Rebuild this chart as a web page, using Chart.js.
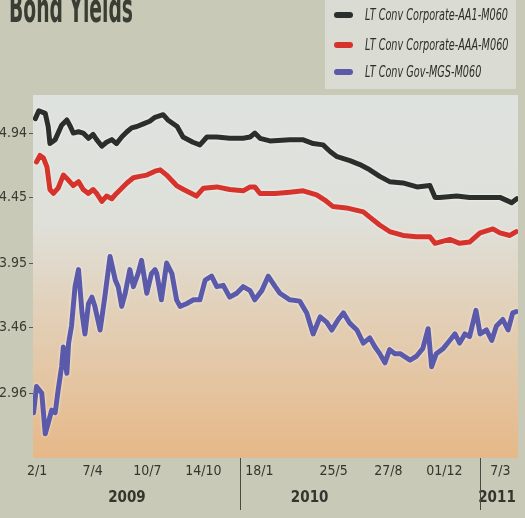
<!DOCTYPE html>
<html>
<head>
<meta charset="utf-8">
<script src="https://cdn.jsdelivr.net/npm/chart.js@4.4.1/dist/chart.umd.min.js"></script>
<style>
  html, body { margin: 0; padding: 0; background: #c8c9b6; overflow: hidden; }
  #wrap { width: 525px; height: 518px; position: relative; }
</style>
</head>
<body>
<div id="wrap"><canvas id="bond" width="525" height="518"></canvas></div>
<script>
// day offsets counted from 2 Jan 2009
const tickDays = [0, 95, 189, 285, 381, 508, 602, 698, 794];
const tickLabels = ["2/1", "7/4", "10/7", "14/10", "18/1", "25/5", "27/8", "01/12", "7/3"];
const yearDays = [154, 467, 788];
const yearLabels = ["2009", "2010", "2011"];
const yearSplitDays = [348, 759];
const yTicks = [2.96, 3.46, 3.95, 4.45, 4.94];

const seriesNames = ["LT Conv Corporate-AA1-M060", "LT Conv Corporate-AAA-M060", "LT Conv Gov-MGS-M060"];
const seriesColors = ["#2b2f2c", "#d5332b", "#5b5aaa"];

const aa1Days = [-3, 3, 14, 19, 22, 31, 42, 51, 57, 62, 71, 79, 88, 96, 102, 111, 119, 128, 136, 145, 154, 162, 171, 182, 193, 202, 216, 224, 240, 250, 267, 279, 291, 308, 330, 353, 365, 373, 382, 399, 433, 455, 473, 490, 502, 514, 536, 553, 570, 587, 604, 627, 651, 673, 682, 690, 719, 741, 771, 793, 813, 822];
const aa1Vals = [5.05, 5.11, 5.09, 4.99, 4.86, 4.89, 5.00, 5.04, 4.99, 4.94, 4.95, 4.94, 4.90, 4.93, 4.89, 4.84, 4.87, 4.89, 4.86, 4.91, 4.95, 4.98, 4.99, 5.01, 5.03, 5.06, 5.08, 5.04, 4.99, 4.91, 4.87, 4.85, 4.91, 4.91, 4.90, 4.90, 4.91, 4.94, 4.90, 4.88, 4.89, 4.89, 4.86, 4.85, 4.80, 4.76, 4.73, 4.70, 4.66, 4.61, 4.57, 4.56, 4.53, 4.54, 4.45, 4.45, 4.46, 4.45, 4.45, 4.45, 4.41, 4.44];

const aaaDays = [-1, 5, 11, 17, 22, 28, 36, 45, 54, 62, 71, 79, 88, 96, 102, 111, 119, 128, 136, 145, 154, 165, 176, 188, 202, 211, 222, 239, 251, 273, 285, 308, 330, 353, 365, 373, 382, 408, 433, 456, 479, 493, 507, 530, 559, 570, 587, 604, 627, 650, 673, 682, 707, 724, 741, 759, 781, 793, 810, 821];
const aaaVals = [4.72, 4.77, 4.75, 4.68, 4.51, 4.48, 4.52, 4.62, 4.58, 4.54, 4.57, 4.51, 4.48, 4.51, 4.48, 4.42, 4.46, 4.44, 4.48, 4.52, 4.56, 4.60, 4.61, 4.62, 4.65, 4.66, 4.62, 4.54, 4.51, 4.46, 4.52, 4.53, 4.51, 4.50, 4.53, 4.53, 4.48, 4.48, 4.49, 4.50, 4.47, 4.43, 4.38, 4.37, 4.34, 4.30, 4.24, 4.19, 4.16, 4.15, 4.15, 4.10, 4.13, 4.10, 4.11, 4.18, 4.21, 4.18, 4.16, 4.19];

const mgsDays = [-6, -1, 8, 14, 19, 25, 31, 36, 42, 45, 51, 54, 59, 65, 71, 77, 82, 88, 94, 99, 108, 116, 125, 134, 139, 145, 151, 159, 165, 173, 179, 188, 196, 202, 205, 213, 222, 231, 239, 245, 256, 268, 279, 288, 299, 308, 319, 330, 342, 353, 365, 373, 385, 396, 408, 416, 433, 450, 462, 473, 485, 496, 505, 516, 525, 536, 548, 559, 570, 579, 587, 596, 604, 613, 622, 639, 650, 661, 670, 676, 684, 696, 707, 716, 724, 733, 741, 752, 759, 770, 779, 787, 798, 807, 815, 821];
const mgsVals = [2.81, 3.01, 2.96, 2.65, 2.73, 2.83, 2.81, 2.98, 3.16, 3.31, 3.11, 3.34, 3.47, 3.77, 3.90, 3.57, 3.41, 3.64, 3.69, 3.62, 3.44, 3.69, 4.00, 3.82, 3.77, 3.62, 3.72, 3.90, 3.77, 3.87, 3.97, 3.72, 3.87, 3.90, 3.87, 3.67, 3.95, 3.87, 3.67, 3.62, 3.64, 3.67, 3.67, 3.82, 3.85, 3.77, 3.78, 3.69, 3.72, 3.77, 3.74, 3.67, 3.74, 3.85, 3.77, 3.72, 3.67, 3.66, 3.57, 3.41, 3.54, 3.50, 3.44, 3.52, 3.57, 3.49, 3.44, 3.34, 3.38, 3.31, 3.26, 3.19, 3.29, 3.26, 3.26, 3.21, 3.24, 3.30, 3.45, 3.16, 3.26, 3.30, 3.36, 3.41, 3.34, 3.41, 3.39, 3.59, 3.41, 3.44, 3.36, 3.47, 3.52, 3.44, 3.57, 3.58];

const narrow = "'Liberation Sans Narrow', 'DejaVu Sans Condensed', 'Roboto', sans-serif";

function toPoints(days, vals) {
    return days.map((d, i) => ({ x: d, y: vals[i] }));
}

function makeDataset(i, days, vals) {
    return {
        label: seriesNames[i],
        data: toPoints(days, vals),
        borderColor: seriesColors[i],
        borderWidth: 5,
        pointRadius: 0,
        tension: 0,
        borderJoinStyle: "round",
        borderCapStyle: "round"
    };
}

const decor = {
    id: "decor",
    beforeDraw(chart) {
        const ctx = chart.ctx;
        const a = chart.chartArea;
        ctx.save();
        ctx.fillStyle = "#c8c9b6";
        ctx.fillRect(0, 0, chart.width, chart.height);
        // plot background
        let g = ctx.createLinearGradient(0, a.top, 0, a.bottom);
        g.addColorStop(0, "#dee2de");
        g.addColorStop(0.35, "#dfe0da");
        g.addColorStop(0.6, "#e2d0b8");
        g.addColorStop(1, "#e6b888");
        ctx.fillStyle = g;
        ctx.fillRect(a.left, a.top, a.right - a.left, a.bottom - a.top);
        // title, cut at the top edge
        ctx.fillStyle = "#3a3d33";
        ctx.font = "bold 40px " + narrow;
        ctx.textBaseline = "alphabetic";
        ctx.fillText("Bond Yields", 9, 22, 124);
        // legend box
        ctx.fillStyle = "#dadcd4";
        ctx.fillRect(325, 0, 191, 89);
        ctx.font = "italic 15px " + narrow;
        ctx.textBaseline = "middle";
        const rows = [15, 45, 72];
        const squeeze = 143 / ctx.measureText(seriesNames[0]).width;
        chart.data.datasets.forEach((ds, i) => {
            ctx.strokeStyle = ds.borderColor;
            ctx.lineWidth = 6;
            ctx.lineCap = "round";
            ctx.beginPath();
            ctx.moveTo(337, rows[i]);
            ctx.lineTo(350, rows[i]);
            ctx.stroke();
            ctx.fillStyle = "#2c2e28";
            ctx.fillText(ds.label, 365, rows[i] + 1, ctx.measureText(ds.label).width * squeeze);
        });
        ctx.restore();
    },
    beforeDatasetsDraw(chart) {
        const ctx = chart.ctx;
        ctx.save();
        ctx.shadowColor = "rgba(255,255,255,0.75)";
        ctx.shadowBlur = 3;
    },
    afterDatasetsDraw(chart) {
        chart.ctx.restore();
    },
    afterDraw(chart) {
        const ctx = chart.ctx;
        const xs = chart.scales.x;
        ctx.save();
        ctx.fillStyle = "#34362e";
        ctx.font = "bold 15px " + narrow;
        ctx.textAlign = "center";
        ctx.textBaseline = "middle";
        yearDays.forEach((d, i) => {
            ctx.fillText(yearLabels[i], xs.getPixelForValue(d), 498);
        });
        ctx.strokeStyle = "#4a4a40";
        ctx.lineWidth = 1;
        yearSplitDays.forEach(d => {
            const px = Math.round(xs.getPixelForValue(d)) + 0.5;
            ctx.beginPath();
            ctx.moveTo(px, 458);
            ctx.lineTo(px, 510);
            ctx.stroke();
        });
        ctx.restore();
    }
};

new Chart(document.getElementById("bond"), {
    type: "line",
    data: {
        datasets: [
            makeDataset(0, aa1Days, aa1Vals),
            makeDataset(1, aaaDays, aaaVals),
            makeDataset(2, mgsDays, mgsVals)
        ]
    },
    options: {
        responsive: false,
        animation: false,
        devicePixelRatio: 1,
        layout: { padding: { top: 95, right: 7, left: 0, bottom: 0 } },
        plugins: {
            legend: { display: false },
            tooltip: { enabled: false }
        },
        scales: {
            x: {
                type: "linear",
                min: -7,
                max: 824,
                afterFit(scale) { scale.height = 60; },
                afterBuildTicks(scale) {
                    scale.ticks = tickDays.map(v => ({ value: v }));
                },
                grid: { display: false },
                border: { display: false },
                ticks: {
                    autoSkip: false,
                    maxRotation: 0,
                    padding: -3,
                    color: "#34362e",
                    font: { family: narrow, size: 14 },
                    callback: (v) => tickLabels[tickDays.indexOf(v)]
                }
            },
            y: {
                min: 2.465,
                max: 5.23,
                afterFit(scale) { scale.width = 33; },
                afterBuildTicks(scale) {
                    scale.ticks = yTicks.map(v => ({ value: v }));
                },
                grid: { drawOnChartArea: false, tickLength: 4, color: "#5a5a50", tickWidth: 1 },
                border: { display: false },
                ticks: {
                    padding: 2,
                    color: "#3a3c32",
                    font: { family: narrow, size: 14 },
                    callback: (v) => v.toFixed(2)
                }
            }
        }
    },
    plugins: [decor]
});
</script>
</body>
</html>
